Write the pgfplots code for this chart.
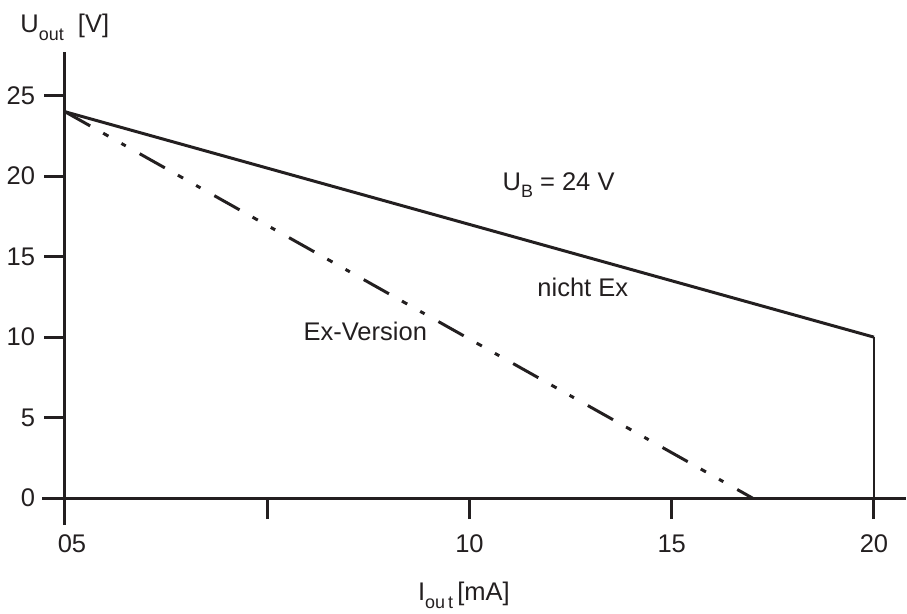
\documentclass[border=0pt]{standalone}
\usepackage{pgfplots}
\pgfplotsset{compat=1.18}
\usepackage{fontspec}
\setmainfont{Liberation Sans}
\definecolor{ink}{HTML}{231F20}
\begin{document}%
\begin{tikzpicture}[font=\fontsize{12.8}{15}\selectfont]
\begin{axis}[
  x=20.3pt, y=8.08pt,
  axis lines=middle,
  axis line style={-, line width=1.5pt, color=ink},
  every inner x axis line/.append style={-},
  every inner y axis line/.append style={-},
  hide obscured x ticks=false,
  hide obscured y ticks=false,
  xmin=-0.567, xmax=20.78,
  ymin=-1.67, ymax=27.72,
  xtick={0,5,10,15,20},
  xticklabels={\hspace{7pt}05,,10,15,20},
  ytick={0,5,10,15,20,25},
  tick align=outside,
  major tick length=10.5pt,
  tick style={line width=1.5pt, color=ink},
  minor tick num=0,
  /pgf/number format/assume math mode=true,
  ticklabel style={font=\fontsize{12.8}{15}\selectfont, color=ink},
  xticklabel style={yshift=-4.5pt},
  yticklabel style={xshift=-1pt},
  clip=false,
]
\path (axis cs:-1.552,-7.18) rectangle (axis cs:20.788,30.94);
\addplot[ink, line width=1.5pt] coordinates {(0,24) (20,10)};
\addplot[ink, line width=0.75pt] coordinates {(20,10) (20,0)};
\addplot[ink, line width=1.5pt, dash pattern=on 14.5pt off 7.5pt on 3pt off 7.5pt on 2.5pt off 8pt] coordinates {(0,24) (17,0)};
\node[anchor=base west, text=ink, inner sep=0pt] at (axis cs:-1.11,28.9) {U\raisebox{-0.55ex}{\fontsize{9}{10}\selectfont out}\ \ [V]};
\node[anchor=base west, text=ink, inner sep=0pt] at (axis cs:8.72,-6.37) {I\raisebox{-0.6ex}{\fontsize{9}{10}\selectfont ou\,t}\,[mA]};
\node[anchor=base west, text=ink, inner sep=0pt] at (axis cs:10.81,19.12) {U\raisebox{-0.55ex}{\fontsize{9}{10}\selectfont B} = 24 V};
\node[anchor=base west, text=ink, inner sep=0pt] at (axis cs:11.67,12.5) {nicht Ex};
\node[anchor=base west, text=ink, inner sep=0pt] at (axis cs:5.89,9.78) {Ex-Version};
\end{axis}
\end{tikzpicture}%
\end{document}
